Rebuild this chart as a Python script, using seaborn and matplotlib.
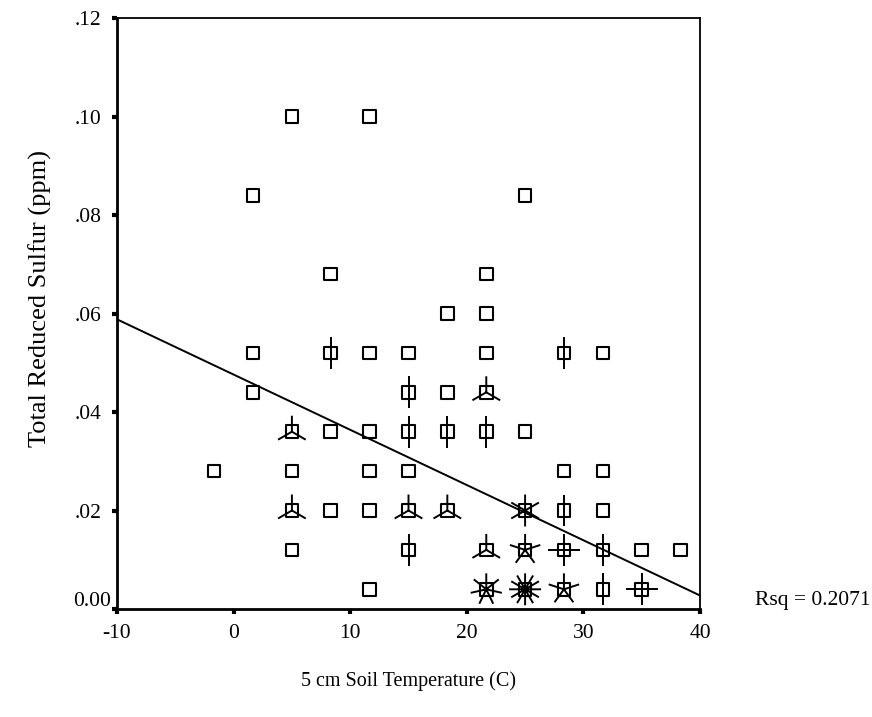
import numpy as np
import pandas as pd
import matplotlib
matplotlib.use("Agg")
import matplotlib.pyplot as plt
from matplotlib.path import Path
import seaborn as sns

# ---- data (x = 5 cm soil temperature, y = total reduced sulfur, count = sunflower petals) ----
temp_x = [5, 11.67,
          1.67, 25,
          8.33, 21.67,
          18.33, 21.67,
          1.67, 8.33, 11.67, 15, 21.67, 28.33, 31.67,
          1.67, 15, 18.33, 21.67,
          5, 8.33, 11.67, 15, 18.33, 21.67, 25,
          -1.67, 5, 11.67, 15, 28.33, 31.67,
          5, 8.33, 11.67, 15, 18.33, 25, 28.33, 31.67,
          5, 15, 21.67, 25, 28.33, 31.67, 35, 38.33,
          11.67, 21.67, 25, 28.33, 31.67, 35]
sulfur_y = [0.100, 0.100,
            0.084, 0.084,
            0.068, 0.068,
            0.060, 0.060,
            0.052, 0.052, 0.052, 0.052, 0.052, 0.052, 0.052,
            0.044, 0.044, 0.044, 0.044,
            0.036, 0.036, 0.036, 0.036, 0.036, 0.036, 0.036,
            0.028, 0.028, 0.028, 0.028, 0.028, 0.028,
            0.020, 0.020, 0.020, 0.020, 0.020, 0.020, 0.020, 0.020,
            0.012, 0.012, 0.012, 0.012, 0.012, 0.012, 0.012, 0.012,
            0.004, 0.004, 0.004, 0.004, 0.004, 0.004]
counts = [1, 1,
          1, 1,
          1, 1,
          1, 1,
          1, 2, 1, 1, 1, 2, 1,
          1, 2, 1, 3,
          3, 1, 1, 2, 2, 2, 1,
          1, 1, 1, 1, 1, 1,
          3, 1, 1, 3, 3, 6, 2, 1,
          1, 2, 3, 5, 4, 2, 1, 1,
          1, 7, 12, 5, 2, 4]

x_ticks = [-10, 0, 10, 20, 30, 40]
y_ticks = [0.00, 0.02, 0.04, 0.06, 0.08, 0.10, 0.12]
y_tick_labels = ["0.00", ".02", ".04", ".06", ".08", ".10", ".12"]
x_label = "5 cm Soil Temperature (C)"
y_label = "Total Reduced Sulfur (ppm)"
rsq_text = "Rsq = 0.2071"

df = pd.DataFrame({"x": temp_x, "y": sulfur_y, "n": counts})
df_full = df.loc[df.index.repeat(df["n"])].reset_index(drop=True)

sns.set_theme(style="white")
plt.rcParams["font.family"] = ["Liberation Serif", "DejaVu Serif"]

fig = plt.figure(figsize=(8.72, 7.17), dpi=100)
ax = fig.add_axes([117 / 872, 1 - 609 / 717, 583 / 872, 591 / 717])
ax.set_xlim(-10, 40)
ax.set_ylim(0, 0.12)

# squares
sns.scatterplot(data=df, x="x", y="y", marker="s", s=84, facecolor="none",
                edgecolor="black", linewidth=1.5, ax=ax, zorder=3)
ax.collections[0].set_joinstyle("round")


def petal_marker(n):
    verts, codes = [], []
    for k in range(n):
        a = np.pi / 2 + 2 * np.pi * k / n
        verts += [(0, 0), (np.cos(a), np.sin(a))]
        codes += [Path.MOVETO, Path.LINETO]
    return Path(verts, codes)


for n, grp in df[df["n"] > 1].groupby("n"):
    ax.scatter(grp["x"], grp["y"], marker=petal_marker(n), s=23 ** 2,
               facecolors="none", edgecolors="black", linewidths=1.4, zorder=4)

# regression line
sns.regplot(data=df_full, x="x", y="y", scatter=False, ci=None, truncate=False,
            line_kws={"color": "black", "linewidth": 1.4}, ax=ax)
ax.set_xlim(-10, 40)
ax.set_ylim(0, 0.12)

ax.set_xticks(x_ticks)
ax.set_xticklabels([str(t) for t in x_ticks])
ax.set_yticks(y_ticks)
ax.set_yticklabels([""] + y_tick_labels[1:])
ax.tick_params(axis="both", direction="out", length=3.5, width=3, color="black",
               labelsize=15.5, labelcolor="black")
ax.tick_params(axis="x", bottom=True, pad=7)
ax.tick_params(axis="y", left=True, pad=7.5)
# SPSS places the zero label slightly above the axis
ax.annotate(y_tick_labels[0], xy=(0, 0), xycoords="axes fraction",
            xytext=(-6, 7), textcoords="offset pixels", ha="right", va="center",
            fontsize=15.5, color="black")

for side in ["left", "bottom"]:
    ax.spines[side].set_linewidth(2)
    ax.spines[side].set_color("black")
for side in ["top", "right"]:
    ax.spines[side].set_linewidth(1.3)
    ax.spines[side].set_color("black")
    ax.spines[side].set_visible(True)

ax.set_xlabel(x_label, fontsize=14.5, color="black")
ax.set_ylabel(y_label, fontsize=19, color="black")
ax.xaxis.set_label_coords(0.5, -(671 - 609) / 591)
ax.yaxis.set_label_coords((52 - 117) / 583, (609 - 298) / 591)

fig.text(755 / 872, 1 - 600 / 717, rsq_text, fontsize=15.5, va="center", ha="left",
         color="black")

fig.savefig("out.png", dpi=100)
